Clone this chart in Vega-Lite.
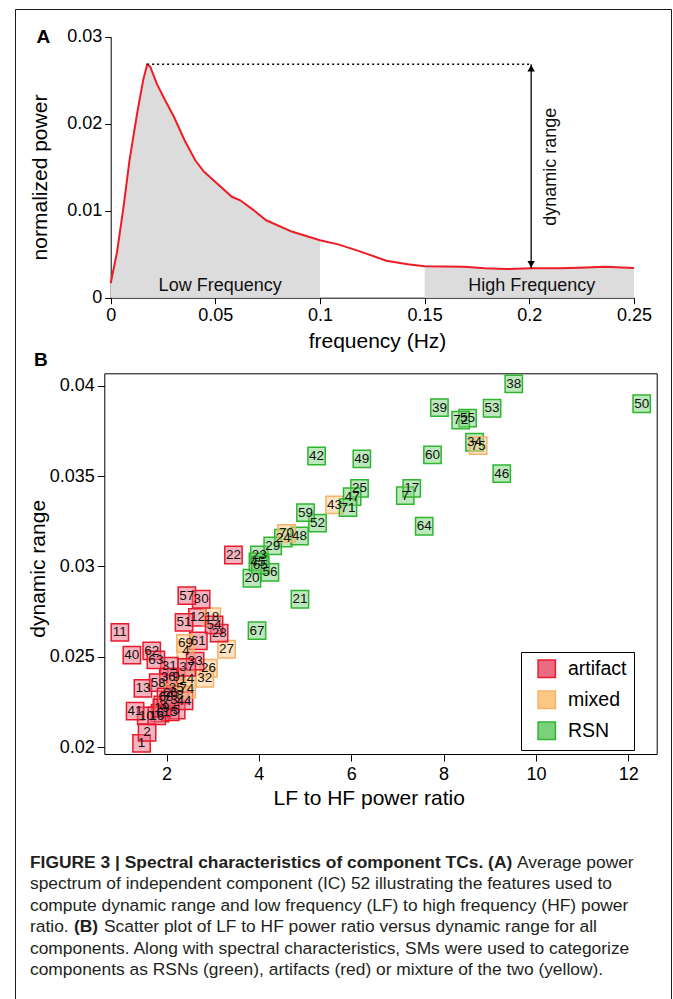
{
  "$schema": "https://vega.github.io/schema/vega-lite/v6.json",
  "width": 656,
  "height": 1000,
  "autosize": {"type": "none"},
  "padding": {"left": 15, "top": 9, "right": 2, "bottom": 0},
  "background": "white",
  "datasets": {
    "spectrum": [
      {"f": 0, "p": 0.00166}, {"f": 0.0030, "p": 0.0052}, {"f": 0.0060, "p": 0.0102}, {"f": 0.0090, "p": 0.0158},
      {"f": 0.0125, "p": 0.0210}, {"f": 0.0155, "p": 0.0250}, {"f": 0.0174, "p": 0.0268}, {"f": 0.0189, "p": 0.02655},
      {"f": 0.0220, "p": 0.0246}, {"f": 0.0260, "p": 0.0227}, {"f": 0.0302, "p": 0.0208},
      {"f": 0.0353, "p": 0.0181}, {"f": 0.0404, "p": 0.0158}, {"f": 0.0445, "p": 0.0145},
      {"f": 0.0507, "p": 0.01315}, {"f": 0.0579, "p": 0.0116}, {"f": 0.0619, "p": 0.0112},
      {"f": 0.0681, "p": 0.0101}, {"f": 0.0743, "p": 0.0089}, {"f": 0.0865, "p": 0.0076},
      {"f": 0.1, "p": 0.0066}, {"f": 0.1091, "p": 0.0061}, {"f": 0.1194, "p": 0.0053},
      {"f": 0.1317, "p": 0.00425}, {"f": 0.1419, "p": 0.00384}, {"f": 0.15, "p": 0.00362},
      {"f": 0.1686, "p": 0.00356}, {"f": 0.1788, "p": 0.00338}, {"f": 0.1891, "p": 0.0033},
      {"f": 0.2014, "p": 0.00338}, {"f": 0.2137, "p": 0.00338}, {"f": 0.224, "p": 0.00345},
      {"f": 0.2363, "p": 0.00356}, {"f": 0.25, "p": 0.00341}
    ],
    "dynrange": [{"f0": 0.0174, "f": 0.2009, "lo": 0.00338, "hi": 0.02683}],
    "bandlabels": [
      {"label": "Low Frequency", "f": 0.0523, "p": 0.00134},
      {"label": "High Frequency", "f": 0.2012, "p": 0.00134}
    ],
    "panelA": [{"label": "A", "f": -0.0322, "p": 0.02993}],
    "panelB": [{"label": "B", "lf_hf": -0.72, "dyn_range": 0.04143}],
    "components": [
      {"id": 1, "lf_hf": 1.46, "dyn_range": 0.02020, "type": "artifact"},
      {"id": 2, "lf_hf": 1.58, "dyn_range": 0.02081, "type": "artifact"},
      {"id": 3, "lf_hf": 1.92, "dyn_range": 0.02233, "type": "artifact"},
      {"id": 4, "lf_hf": 2.42, "dyn_range": 0.02533, "type": "mixed"},
      {"id": 5, "lf_hf": 2.21, "dyn_range": 0.02205, "type": "artifact"},
      {"id": 6, "lf_hf": 1.86, "dyn_range": 0.02188, "type": "artifact"},
      {"id": 7, "lf_hf": 7.17, "dyn_range": 0.03391, "type": "RSN"},
      {"id": 8, "lf_hf": 2.29, "dyn_range": 0.02288, "type": "artifact"},
      {"id": 9, "lf_hf": 2.21, "dyn_range": 0.02386, "type": "artifact"},
      {"id": 10, "lf_hf": 1.56, "dyn_range": 0.02172, "type": "artifact"},
      {"id": 11, "lf_hf": 0.99, "dyn_range": 0.02635, "type": "artifact"},
      {"id": 12, "lf_hf": 2.67, "dyn_range": 0.02718, "type": "artifact"},
      {"id": 13, "lf_hf": 1.49, "dyn_range": 0.02325, "type": "artifact"},
      {"id": 14, "lf_hf": 2.44, "dyn_range": 0.02375, "type": "mixed"},
      {"id": 15, "lf_hf": 2.08, "dyn_range": 0.02194, "type": "artifact"},
      {"id": 16, "lf_hf": 1.79, "dyn_range": 0.02172, "type": "artifact"},
      {"id": 17, "lf_hf": 7.31, "dyn_range": 0.03432, "type": "RSN"},
      {"id": 18, "lf_hf": 2.98, "dyn_range": 0.02721, "type": "mixed"},
      {"id": 19, "lf_hf": 1.90, "dyn_range": 0.02216, "type": "artifact"},
      {"id": 20, "lf_hf": 3.85, "dyn_range": 0.02934, "type": "RSN"},
      {"id": 21, "lf_hf": 4.89, "dyn_range": 0.02818, "type": "RSN"},
      {"id": 22, "lf_hf": 3.45, "dyn_range": 0.03063, "type": "artifact"},
      {"id": 23, "lf_hf": 4.01, "dyn_range": 0.03063, "type": "RSN"},
      {"id": 24, "lf_hf": 4.53, "dyn_range": 0.03156, "type": "RSN"},
      {"id": 25, "lf_hf": 6.18, "dyn_range": 0.03432, "type": "RSN"},
      {"id": 26, "lf_hf": 2.91, "dyn_range": 0.02436, "type": "mixed"},
      {"id": 27, "lf_hf": 3.30, "dyn_range": 0.02541, "type": "mixed"},
      {"id": 28, "lf_hf": 3.14, "dyn_range": 0.02630, "type": "artifact"},
      {"id": 29, "lf_hf": 4.30, "dyn_range": 0.03113, "type": "RSN"},
      {"id": 30, "lf_hf": 2.75, "dyn_range": 0.02818, "type": "artifact"},
      {"id": 31, "lf_hf": 2.06, "dyn_range": 0.02448, "type": "artifact"},
      {"id": 32, "lf_hf": 2.83, "dyn_range": 0.02380, "type": "mixed"},
      {"id": 33, "lf_hf": 2.62, "dyn_range": 0.02475, "type": "artifact"},
      {"id": 34, "lf_hf": 8.67, "dyn_range": 0.03687, "type": "RSN"},
      {"id": 35, "lf_hf": 2.21, "dyn_range": 0.02327, "type": "mixed"},
      {"id": 36, "lf_hf": 2.04, "dyn_range": 0.02386, "type": "artifact"},
      {"id": 37, "lf_hf": 2.44, "dyn_range": 0.02441, "type": "artifact"},
      {"id": 38, "lf_hf": 9.52, "dyn_range": 0.04010, "type": "RSN"},
      {"id": 39, "lf_hf": 7.91, "dyn_range": 0.03879, "type": "RSN"},
      {"id": 40, "lf_hf": 1.25, "dyn_range": 0.02509, "type": "artifact"},
      {"id": 41, "lf_hf": 1.32, "dyn_range": 0.02199, "type": "artifact"},
      {"id": 42, "lf_hf": 5.25, "dyn_range": 0.03611, "type": "RSN"},
      {"id": 43, "lf_hf": 5.64, "dyn_range": 0.03340, "type": "mixed"},
      {"id": 44, "lf_hf": 2.38, "dyn_range": 0.02256, "type": "artifact"},
      {"id": 45, "lf_hf": 3.98, "dyn_range": 0.03024, "type": "RSN"},
      {"id": 46, "lf_hf": 9.26, "dyn_range": 0.03513, "type": "RSN"},
      {"id": 47, "lf_hf": 6.02, "dyn_range": 0.03386, "type": "RSN"},
      {"id": 48, "lf_hf": 4.88, "dyn_range": 0.03168, "type": "RSN"},
      {"id": 49, "lf_hf": 6.23, "dyn_range": 0.03595, "type": "RSN"},
      {"id": 50, "lf_hf": 12.29, "dyn_range": 0.03900, "type": "RSN"},
      {"id": 51, "lf_hf": 2.38, "dyn_range": 0.02690, "type": "artifact"},
      {"id": 52, "lf_hf": 5.27, "dyn_range": 0.03239, "type": "RSN"},
      {"id": 53, "lf_hf": 9.05, "dyn_range": 0.03875, "type": "RSN"},
      {"id": 54, "lf_hf": 3.03, "dyn_range": 0.02676, "type": "artifact"},
      {"id": 55, "lf_hf": 8.52, "dyn_range": 0.03820, "type": "RSN"},
      {"id": 56, "lf_hf": 4.24, "dyn_range": 0.02967, "type": "RSN"},
      {"id": 57, "lf_hf": 2.44, "dyn_range": 0.02838, "type": "artifact"},
      {"id": 58, "lf_hf": 1.82, "dyn_range": 0.02356, "type": "artifact"},
      {"id": 59, "lf_hf": 5.01, "dyn_range": 0.03297, "type": "RSN"},
      {"id": 60, "lf_hf": 7.76, "dyn_range": 0.03617, "type": "RSN"},
      {"id": 61, "lf_hf": 2.69, "dyn_range": 0.02587, "type": "artifact"},
      {"id": 62, "lf_hf": 1.68, "dyn_range": 0.02532, "type": "artifact"},
      {"id": 63, "lf_hf": 1.77, "dyn_range": 0.02482, "type": "artifact"},
      {"id": 64, "lf_hf": 7.58, "dyn_range": 0.03222, "type": "RSN"},
      {"id": 65, "lf_hf": 4.03, "dyn_range": 0.03008, "type": "RSN"},
      {"id": 66, "lf_hf": 2.08, "dyn_range": 0.02299, "type": "mixed"},
      {"id": 67, "lf_hf": 3.96, "dyn_range": 0.02644, "type": "RSN"},
      {"id": 68, "lf_hf": 1.99, "dyn_range": 0.02277, "type": "artifact"},
      {"id": 69, "lf_hf": 2.41, "dyn_range": 0.02574, "type": "mixed"},
      {"id": 70, "lf_hf": 4.60, "dyn_range": 0.03183, "type": "mixed"},
      {"id": 71, "lf_hf": 5.93, "dyn_range": 0.03325, "type": "RSN"},
      {"id": 72, "lf_hf": 8.37, "dyn_range": 0.03809, "type": "RSN"},
      {"id": 73, "lf_hf": 2.08, "dyn_range": 0.02260, "type": "artifact"},
      {"id": 74, "lf_hf": 2.44, "dyn_range": 0.02321, "type": "mixed"},
      {"id": 75, "lf_hf": 8.75, "dyn_range": 0.03668, "type": "mixed"}
    ],
    "caption": [
      {"line": 1, "seg": 0, "role": "heading", "text": "FIGURE 3 | Spectral characteristics of component TCs. (A)"},
      {"line": 1, "seg": 1, "role": "body", "text": "Average power"},
      {"line": 2, "seg": 0, "role": "body", "text": "spectrum of independent component (IC) 52 illustrating the features used to"},
      {"line": 3, "seg": 0, "role": "body", "text": "compute dynamic range and low frequency (LF) to high frequency (HF) power"},
      {"line": 4, "seg": 0, "role": "body", "text": "ratio."},
      {"line": 4, "seg": 1, "role": "heading", "text": "(B)"},
      {"line": 4, "seg": 2, "role": "body", "text": "Scatter plot of LF to HF power ratio versus dynamic range for all"},
      {"line": 5, "seg": 0, "role": "body", "text": "components. Along with spectral characteristics, SMs were used to categorize"},
      {"line": 6, "seg": 0, "role": "body", "text": "components as RSNs (green), artifacts (red) or mixture of the two (yellow)."}
    ]
  },
  "resolve": {
    "scale": {"x": "independent", "y": "independent"},
    "axis": {"x": "independent", "y": "independent"}
  },
  "layer": [
    {
      "data": {"name": "spectrum"},
      "transform": [{"filter": "datum.f <= 0.1"}],
      "mark": {"type": "area", "color": "#dcdcdc"},
      "encoding": {
        "x": {"field": "f", "type": "quantitative",
          "scale": {"domain": [0, 0.25], "range": [95.7, 618.9], "nice": false, "zero": false},
          "axis": {"orient": "bottom", "offset": -711.3, "values": [0, 0.05, 0.1, 0.15, 0.2, 0.25], "format": "~g",
            "tickSize": 6, "labelPadding": 3, "title": "frequency (Hz)", "titleX": 362, "titleY": 44, "titleBaseline": "middle"}},
        "y": {"field": "p", "type": "quantitative",
          "scale": {"domain": [0, 0.03], "range": [288.7, 27.7], "nice": false, "zero": false},
          "axis": {"orient": "left", "offset": -95.7, "values": [0, 0.01, 0.02, 0.03], "format": "~g",
            "tickSize": 6, "labelPadding": 3, "title": "normalized power", "titleX": -69.9, "titleY": 168, "titleBaseline": "middle"}},
        "y2": {"datum": 0}
      }
    },
    {
      "data": {"name": "spectrum"},
      "transform": [{"filter": "datum.f >= 0.15"}],
      "mark": {"type": "area", "color": "#dcdcdc"},
      "encoding": {
        "x": {"field": "f", "type": "quantitative", "scale": {"domain": [0, 0.25], "range": [95.7, 618.9], "nice": false, "zero": false}, "axis": null},
        "y": {"field": "p", "type": "quantitative", "scale": {"domain": [0, 0.03], "range": [288.7, 27.7], "nice": false, "zero": false}, "axis": null},
        "y2": {"datum": 0}
      }
    },
    {
      "data": {"name": "spectrum"},
      "mark": {"type": "line", "color": "#ee1c25", "strokeWidth": 2},
      "encoding": {
        "x": {"field": "f", "type": "quantitative", "scale": {"domain": [0, 0.25], "range": [95.7, 618.9], "nice": false, "zero": false}, "axis": null},
        "y": {"field": "p", "type": "quantitative", "scale": {"domain": [0, 0.03], "range": [288.7, 27.7], "nice": false, "zero": false}, "axis": null}
      }
    },
    {
      "data": {"name": "dynrange"},
      "mark": {"type": "rule", "color": "#000", "strokeWidth": 1.5, "strokeDash": [2, 3]},
      "encoding": {
        "x": {"field": "f0", "type": "quantitative", "scale": {"domain": [0, 0.25], "range": [95.7, 618.9], "nice": false, "zero": false}, "axis": null},
        "x2": {"field": "f"},
        "y": {"field": "hi", "type": "quantitative", "scale": {"domain": [0, 0.03], "range": [288.7, 27.7], "nice": false, "zero": false}, "axis": null}
      }
    },
    {
      "data": {"name": "dynrange"},
      "mark": {"type": "rule", "color": "#000", "strokeWidth": 1.3},
      "encoding": {
        "x": {"field": "f", "type": "quantitative", "scale": {"domain": [0, 0.25], "range": [95.7, 618.9], "nice": false, "zero": false}, "axis": null},
        "y": {"field": "lo", "type": "quantitative", "scale": {"domain": [0, 0.03], "range": [288.7, 27.7], "nice": false, "zero": false}, "axis": null},
        "y2": {"field": "hi"}
      }
    },
    {
      "data": {"name": "dynrange"},
      "mark": {"type": "point", "shape": "triangle-up", "filled": true, "color": "#000", "size": 55, "opacity": 1, "yOffset": 4},
      "encoding": {
        "x": {"field": "f", "type": "quantitative", "scale": {"domain": [0, 0.25], "range": [95.7, 618.9], "nice": false, "zero": false}, "axis": null},
        "y": {"field": "hi", "type": "quantitative", "scale": {"domain": [0, 0.03], "range": [288.7, 27.7], "nice": false, "zero": false}, "axis": null}
      }
    },
    {
      "data": {"name": "dynrange"},
      "mark": {"type": "point", "shape": "triangle-down", "filled": true, "color": "#000", "size": 55, "opacity": 1, "yOffset": -4},
      "encoding": {
        "x": {"field": "f", "type": "quantitative", "scale": {"domain": [0, 0.25], "range": [95.7, 618.9], "nice": false, "zero": false}, "axis": null},
        "y": {"field": "lo", "type": "quantitative", "scale": {"domain": [0, 0.03], "range": [288.7, 27.7], "nice": false, "zero": false}, "axis": null}
      }
    },
    {
      "data": {"name": "bandlabels"},
      "mark": {"type": "text", "fontSize": 18, "color": "#111", "baseline": "middle", "align": "center"},
      "encoding": {
        "x": {"field": "f", "type": "quantitative", "scale": {"domain": [0, 0.25], "range": [95.7, 618.9], "nice": false, "zero": false}, "axis": null},
        "y": {"field": "p", "type": "quantitative", "scale": {"domain": [0, 0.03], "range": [288.7, 27.7], "nice": false, "zero": false}, "axis": null},
        "text": {"field": "label"}
      }
    },
    {
      "data": {"values": [{"label": "dynamic range", "f": 0.2106, "p": 0.01506}]},
      "mark": {"type": "text", "fontSize": 18, "color": "#111", "baseline": "middle", "align": "center", "angle": 270},
      "encoding": {
        "x": {"field": "f", "type": "quantitative", "scale": {"domain": [0, 0.25], "range": [95.7, 618.9], "nice": false, "zero": false}, "axis": null},
        "y": {"field": "p", "type": "quantitative", "scale": {"domain": [0, 0.03], "range": [288.7, 27.7], "nice": false, "zero": false}, "axis": null},
        "text": {"field": "label"}
      }
    },
    {
      "data": {"name": "panelA"},
      "mark": {"type": "text", "fontSize": 19, "fontWeight": "bold", "color": "#000", "baseline": "middle", "align": "center"},
      "encoding": {
        "x": {"field": "f", "type": "quantitative", "scale": {"domain": [0, 0.25], "range": [95.7, 618.9], "nice": false, "zero": false}, "axis": null},
        "y": {"field": "p", "type": "quantitative", "scale": {"domain": [0, 0.03], "range": [288.7, 27.7], "nice": false, "zero": false}, "axis": null},
        "text": {"field": "label"}
      }
    },
    {
      "data": {"name": "components"},
      "mark": {"type": "point", "shape": "square", "filled": true, "size": 300, "strokeWidth": 1.5, "fillOpacity": 0.5, "opacity": 1},
      "encoding": {
        "x": {"field": "lf_hf", "type": "quantitative",
          "scale": {"domain": [0.653, 12.615], "range": [89.3, 641.7], "nice": false, "zero": false},
          "axis": {"orient": "bottom", "offset": -255, "values": [2, 4, 6, 8, 10, 12], "tickSize": 7, "labelPadding": 4,
            "title": "LF to HF power ratio", "titleX": 353.7, "titleY": 44.3, "titleBaseline": "middle"}},
        "y": {"field": "dyn_range", "type": "quantitative",
          "scale": {"domain": [0.019613, 0.040686], "range": [745, 364.3], "nice": false, "zero": false},
          "axis": {"orient": "left", "offset": -89.3, "values": [0.02, 0.025, 0.03, 0.035, 0.04], "format": "~g", "tickSize": 7, "labelPadding": 3,
            "title": "dynamic range", "titleX": -65.7, "titleY": 559.3, "titleBaseline": "middle"}},
        "fill": {"field": "type", "type": "nominal",
          "scale": {"domain": ["artifact", "mixed", "RSN"], "range": ["#eb6b81", "#fbc783", "#7bd17b"]},
          "legend": {"title": null, "orient": "none", "legendX": 506, "legendY": 643, "padding": 7, "symbolOffset": 9,
            "symbolType": "square", "symbolSize": 300, "labelFontSize": 19.5, "labelOffset": 11.5, "rowPadding": 7,
            "strokeColor": "#000", "labelColor": "#000"}},
        "stroke": {"field": "type", "type": "nominal",
          "scale": {"domain": ["artifact", "mixed", "RSN"], "range": ["#e8192c", "#f6b26b", "#2fb52f"]},
          "legend": {"title": null, "orient": "none", "legendX": 506, "legendY": 643, "padding": 7, "symbolOffset": 9,
            "symbolType": "square", "symbolSize": 300, "labelFontSize": 19.5, "labelOffset": 11.5, "rowPadding": 7,
            "strokeColor": "#000", "labelColor": "#000"}}
      }
    },
    {
      "data": {"name": "components"},
      "mark": {"type": "text", "fontSize": 13.5, "color": "#111", "baseline": "middle", "align": "center"},
      "encoding": {
        "x": {"field": "lf_hf", "type": "quantitative",
          "scale": {"domain": [0.653, 12.615], "range": [89.3, 641.7], "nice": false, "zero": false},
          "axis": {"orient": "top", "offset": -364.3, "ticks": false, "labels": false, "title": null}},
        "y": {"field": "dyn_range", "type": "quantitative",
          "scale": {"domain": [0.019613, 0.040686], "range": [745, 364.3], "nice": false, "zero": false},
          "axis": {"orient": "right", "offset": -14.3, "ticks": false, "labels": false, "title": null}},
        "text": {"field": "id"}
      }
    },
    {
      "data": {"name": "panelB"},
      "mark": {"type": "text", "fontSize": 19, "fontWeight": "bold", "color": "#000", "baseline": "middle", "align": "center"},
      "encoding": {
        "x": {"field": "lf_hf", "type": "quantitative", "scale": {"domain": [0.653, 12.615], "range": [89.3, 641.7], "nice": false, "zero": false}, "axis": null},
        "y": {"field": "dyn_range", "type": "quantitative", "scale": {"domain": [0.019613, 0.040686], "range": [745, 364.3], "nice": false, "zero": false}, "axis": null},
        "text": {"field": "label"}
      }
    },
    {
      "data": {"name": "caption"},
      "transform": [{"filter": "datum.seg == 0 && datum.role == 'body'"}],
      "mark": {"type": "text", "fontSize": 17.4, "color": "#231f20", "baseline": "middle", "align": "left"},
      "encoding": {
        "x": {"datum": 0, "type": "quantitative", "scale": {"domain": [0, 1], "range": [15, 641], "nice": false, "zero": false}, "axis": null},
        "y": {"field": "line", "type": "quantitative", "scale": {"domain": [1, 6], "range": [854, 961], "nice": false, "zero": false}, "axis": null},
        "text": {"field": "text"}
      }
    },
    {
      "data": {"name": "caption"},
      "transform": [{"filter": "datum.seg == 0 && datum.role == 'heading'"}],
      "mark": {"type": "text", "fontSize": 17.4, "fontWeight": "bold", "color": "#231f20", "baseline": "middle", "align": "left"},
      "encoding": {
        "x": {"datum": 0, "type": "quantitative", "scale": {"domain": [0, 1], "range": [15, 641], "nice": false, "zero": false}, "axis": null},
        "y": {"field": "line", "type": "quantitative", "scale": {"domain": [1, 6], "range": [854, 961], "nice": false, "zero": false}, "axis": null},
        "text": {"field": "text"}
      }
    },
    {
      "data": {"name": "caption"},
      "transform": [{"filter": "datum.line == 1 && datum.seg == 1"}],
      "mark": {"type": "text", "fontSize": 17.4, "color": "#231f20", "baseline": "middle", "align": "left", "dx": 487},
      "encoding": {
        "x": {"datum": 0, "type": "quantitative", "scale": {"domain": [0, 1], "range": [15, 641], "nice": false, "zero": false}, "axis": null},
        "y": {"field": "line", "type": "quantitative", "scale": {"domain": [1, 6], "range": [854, 961], "nice": false, "zero": false}, "axis": null},
        "text": {"field": "text"}
      }
    },
    {
      "data": {"name": "caption"},
      "transform": [{"filter": "datum.line == 4 && datum.seg == 1"}],
      "mark": {"type": "text", "fontSize": 17.4, "fontWeight": "bold", "color": "#231f20", "baseline": "middle", "align": "left", "dx": 44},
      "encoding": {
        "x": {"datum": 0, "type": "quantitative", "scale": {"domain": [0, 1], "range": [15, 641], "nice": false, "zero": false}, "axis": null},
        "y": {"field": "line", "type": "quantitative", "scale": {"domain": [1, 6], "range": [854, 961], "nice": false, "zero": false}, "axis": null},
        "text": {"field": "text"}
      }
    },
    {
      "data": {"name": "caption"},
      "transform": [{"filter": "datum.line == 4 && datum.seg == 2"}],
      "mark": {"type": "text", "fontSize": 17.4, "color": "#231f20", "baseline": "middle", "align": "left", "dx": 74},
      "encoding": {
        "x": {"datum": 0, "type": "quantitative", "scale": {"domain": [0, 1], "range": [15, 641], "nice": false, "zero": false}, "axis": null},
        "y": {"field": "line", "type": "quantitative", "scale": {"domain": [1, 6], "range": [854, 961], "nice": false, "zero": false}, "axis": null},
        "text": {"field": "text"}
      }
    }
  ],
  "config": {
    "font": "Liberation Sans",
    "view": {"stroke": "#1a1a1a", "strokeWidth": 1},
    "axis": {
      "grid": false, "domainColor": "#000", "domainWidth": 1, "tickColor": "#000", "tickWidth": 1,
      "labelColor": "#000", "labelFont": "Liberation Sans", "labelFontSize": 18,
      "titleFont": "Liberation Sans", "titleFontSize": 21, "titleFontWeight": "normal", "titleColor": "#000",
      "labelFlush": false, "labelOverlap": false, "labelBound": false
    },
    "legend": {"labelFont": "Liberation Sans"}
  }
}
